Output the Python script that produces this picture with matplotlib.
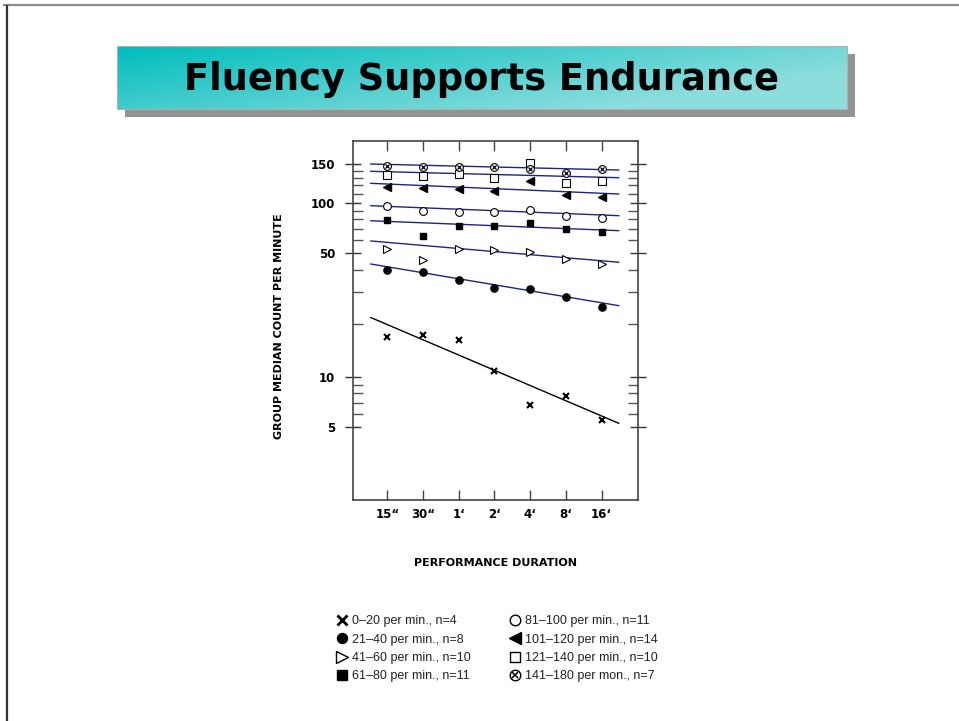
import numpy as np
import matplotlib
matplotlib.use("Agg")
import matplotlib.pyplot as plt
from matplotlib.lines import Line2D
from matplotlib.patches import Rectangle
from matplotlib.ticker import FixedLocator, FuncFormatter, NullFormatter
from matplotlib.legend_handler import HandlerTuple

# ---- data ----
durations = ["15\u201c", "30\u201c", "1\u2018", "2\u2018", "4\u2018", "8\u2018", "16\u2018"]

g_0_20 = [16.7, 17.2, 16.2, 10.8, 6.8, 7.7, 5.5]
g_21_40 = [40.0, 38.9, 35.0, 31.5, 31.4, 28.1, 24.9]
g_41_60 = [52.6, 45.3, 52.6, 51.9, 50.7, 46.1, 43.0]
g_61_80 = [78.9, 63.4, 72.9, 72.3, 75.3, 69.3, 66.5]
g_81_100 = [95.9, 89.4, 87.8, 88.6, 90.3, 83.1, 80.8]
g_101_120 = [118.5, 117.2, 115.3, 113.3, 125.3, 108.7, 106.1]
g_121_140 = [133.4, 132.8, 135.2, 130.1, 152.0, 123.1, 125.7]
g_141_180 = [146.9, 145.9, 145.9, 145.0, 142.4, 137.0, 142.8]

# trend lines: value at start and end of the fitted line
fit_x = [-0.46, 6.48]
fit_0_20 = [21.6, 5.27]
fit_21_40 = [43.2, 25.2]
fit_41_60 = [58.9, 44.2]
fit_61_80 = [78.1, 68.0]
fit_81_100 = [96.3, 83.8]
fit_101_120 = [122.7, 109.8]
fit_121_140 = [139.0, 130.1]
fit_141_180 = [150.0, 140.9]

labels = ["0\u201320 per min., n=4", "21\u201340 per min., n=8",
          "41\u201360 per min., n=10", "61\u201380 per min., n=11",
          "81\u2013100 per min., n=11", "101\u2013120 per min., n=14",
          "121\u2013140 per min., n=10", "141\u2013180 per mon., n=7"]

major_ticks = [5, 10, 50, 100, 150]
minor_ticks = [6, 7, 8, 9, 20, 30, 40, 60, 70, 80, 90, 110, 120, 130, 140]

# the printed chart's log axis is not evenly spaced: decade spacing per segment
scale_vals = np.log10([5, 10, 50, 100, 150])
scale_steps = np.array([0, 50, 174.3, 224, 263.0])


def _pw(x, xs, ys):
    x = np.asarray(x, dtype=float)
    y = np.interp(x, xs, ys)
    lo = ys[0] + (x - xs[0]) * (ys[1] - ys[0]) / (xs[1] - xs[0])
    hi = ys[-1] + (x - xs[-1]) * (ys[-1] - ys[-2]) / (xs[-1] - xs[-2])
    return np.where(x < xs[0], lo, np.where(x > xs[-1], hi, y))


def fwd(v):
    v = np.clip(np.asarray(v, dtype=float), 1e-3, None)
    return _pw(np.log10(v), scale_vals, scale_steps)


def inv(h):
    return 10 ** _pw(h, scale_steps, scale_vals)


W, H = 959, 721
fig = plt.figure(figsize=(W / 100, H / 100), dpi=100)

# background decorations (page frame, title banner)
bg = fig.add_axes([0, 0, 1, 1], zorder=0)
bg.axis("off")
bg.plot([3, W], [5, 5], color="#8a8a8a", lw=1.6, solid_capstyle="butt")
bg.plot([6.5, 6.5], [5, H], color="#333333", lw=1.6, solid_capstyle="butt")
bg.add_patch(Rectangle((125, 54), 730, 63, facecolor="#939393", edgecolor="none", zorder=1))
u = np.linspace(0, 1, 300)[None, :]
v = np.linspace(0, 1, 60)[:, None]
t = np.clip(0.8 * u + 0.45 * v, 0, 1)[..., None]
c0 = np.array([0.0, 0.74, 0.74])
c1 = np.array([0.56, 0.87, 0.87])
grad = c0 * (1 - t) + c1 * t
bg.imshow(grad, extent=(117, 847, 109, 46), aspect="auto", interpolation="bilinear", zorder=2)
bg.add_patch(Rectangle((117, 46), 730, 63, facecolor="none", edgecolor="#b0b0b0", lw=0.8, zorder=3))
bg.text(482, 79, "Fluency Supports Endurance", ha="center", va="center",
        fontsize=26.5, fontweight="bold", family="DejaVu Sans", color="black", zorder=4)
bg.set_xlim(0, W)
bg.set_ylim(H, 0)

# main chart
ax = fig.add_axes([353 / W, 1 - 500 / H, 285 / W, 359 / H], zorder=2)
ax.set_yscale("function", functions=(fwd, inv))
x = np.arange(len(durations))

navy = "#1f2383"
for fit in [fit_21_40, fit_41_60, fit_61_80, fit_81_100, fit_101_120, fit_121_140, fit_141_180]:
    ax.plot(fit_x, fit, color=navy, lw=1.0)
ax.plot(fit_x, fit_0_20, color="black", lw=1.0)

ax.plot(x, g_0_20, ls="none", marker="x", ms=4.5, mew=1.5, color="black")
ax.plot(x, g_21_40, ls="none", marker="o", ms=5.2, color="black")
ax.plot(x, g_41_60, ls="none", marker=">", ms=5.8, mfc="white", mec="black", mew=0.8)
ax.plot(x, g_61_80, ls="none", marker="s", ms=5.0, color="black")
ax.plot(x, g_81_100, ls="none", marker="o", ms=5.6, mfc="white", mec="black", mew=0.8)
ax.plot(x, g_101_120, ls="none", marker="<", ms=6.2, color="black")
ax.plot(x, g_121_140, ls="none", marker="s", ms=5.6, mfc="white", mec="black", mew=0.8)
ax.plot(x, g_141_180, ls="none", marker="o", ms=5.6, mfc="white", mec="black", mew=0.8)
ax.plot(x, g_141_180, ls="none", marker="x", ms=3.3, mec="black", mew=0.9)

ax.set_xlim(-0.96, 7.02)
ax.set_ylim(1.82, 190.5)

ax.set_xticks(x)
ax.set_xticklabels(durations, fontsize=8.5, fontweight="bold", family="DejaVu Sans")
ax.tick_params(axis="x", direction="in", length=7, width=1.0, top=True, bottom=True,
               color="#444444", pad=6)
ax.yaxis.set_major_locator(FixedLocator(major_ticks))
ax.yaxis.set_minor_locator(FixedLocator(minor_ticks))
ax.yaxis.set_major_formatter(FuncFormatter(lambda val, pos: f"{val:g}"))
ax.yaxis.set_minor_formatter(NullFormatter())
ax.tick_params(axis="y", which="major", direction="inout", length=11.5, width=1.0,
               left=True, right=True, color="#333333", pad=7)
ax.tick_params(axis="y", which="minor", direction="in", length=7, width=1.0,
               left=True, right=True, color="#555555")
for lab in ax.get_yticklabels():
    lab.set_fontweight("bold")
    lab.set_fontsize(8.5)
    lab.set_family("DejaVu Sans")
for sp in ax.spines.values():
    sp.set_color("#444444")
    sp.set_linewidth(1.2)

fig.text(279 / W, 1 - 326 / H, "GROUP MEDIAN COUNT PER MINUTE", rotation=90,
         ha="center", va="center", fontsize=8, fontweight="bold", family="DejaVu Sans")
fig.text(495.5 / W, 1 - 563 / H, "PERFORMANCE DURATION", ha="center", va="center",
         fontsize=8, fontweight="bold", family="DejaVu Sans")

# legend
handles = [
    Line2D([], [], ls="none", marker="x", ms=6.8, mew=2.0, color="black"),
    Line2D([], [], ls="none", marker="o", ms=7.2, color="black"),
    Line2D([], [], ls="none", marker=">", ms=8.0, mfc="white", mec="black", mew=1.0),
    Line2D([], [], ls="none", marker="s", ms=6.8, color="black"),
    Line2D([], [], ls="none", marker="o", ms=7.6, mfc="white", mec="black", mew=1.0),
    Line2D([], [], ls="none", marker="<", ms=8.5, color="black"),
    Line2D([], [], ls="none", marker="s", ms=7.0, mfc="white", mec="black", mew=1.0),
    (Line2D([], [], ls="none", marker="o", ms=7.6, mfc="white", mec="black", mew=1.0),
     Line2D([], [], ls="none", marker="x", ms=4.4, mec="black", mew=1.1)),
]
fig.legend(handles, labels, ncol=2, loc="upper left",
           bbox_to_anchor=(336 / W, 1 - 615 / H), frameon=False,
           prop={"family": "Liberation Sans", "size": 9},
           labelcolor="#222222", handlelength=1.0, handletextpad=0.25,
           columnspacing=3.1, labelspacing=0.52, borderpad=0, borderaxespad=0,
           handler_map={tuple: HandlerTuple(ndivide=1)})

fig.savefig("out.png", dpi=100)
